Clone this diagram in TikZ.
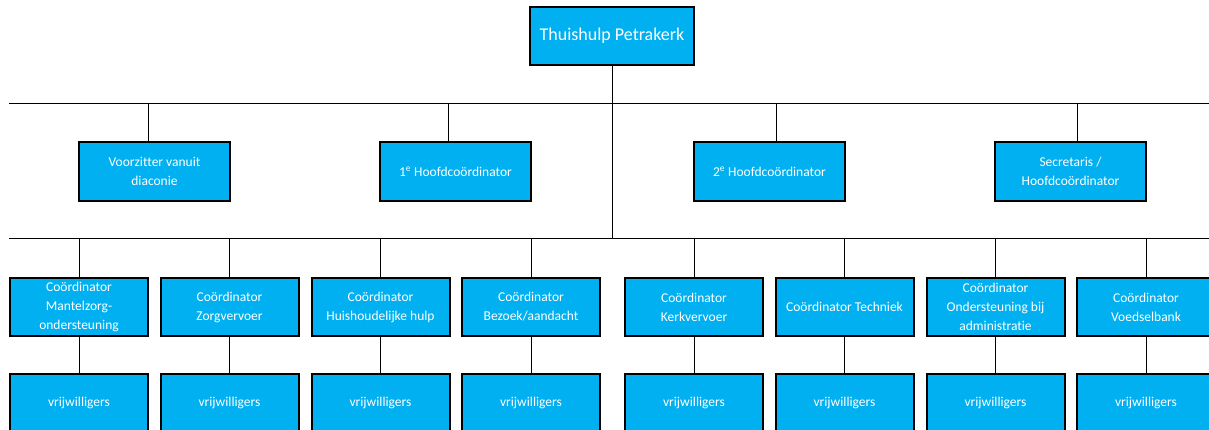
\documentclass[tikz,border=0pt]{standalone}
\usepackage{fontspec}
\setmainfont{Carlito}[Ligatures=CommonOff]
\usetikzlibrary{positioning}
\definecolor{orgblue}{HTML}{00B0F0}

\begin{document}
\begin{tikzpicture}[
                x=1pt, y=-1pt,
                node distance=96pt,
                on grid,
                box/.style={draw=black, line width=2pt, fill=orgblue, text=white,
                    align=center, inner sep=0pt, minimum height=58pt,
                    font=\fontsize{13.5}{19}\selectfont},
                head/.style={box, minimum width=164pt, font=\fontsize{18}{20}\selectfont},
                lead/.style={box, minimum width=151pt, minimum height=59pt},
                coord/.style={box, minimum width=138pt},
                link/.style={draw=black, line width=0.8pt}]
            \useasboundingbox (0,0) rectangle (1209,430);
            \clip (0,0) rectangle (1209,430);
            % buses
            \coordinate (bus_L) at (9,103);
            \coordinate (bus_R) at (1209,103);
            \coordinate (low_L) at (9,238);
            \coordinate (low_R) at (1209,238);
            \coordinate (tap_1) at (148,103);
            \coordinate (tap_2) at (448,103);
            \coordinate (tap_3) at (776,103);
            \coordinate (tap_4) at (1077,103);
            % top
            \node[head] (top) at (612,36) {Thuishulp Petrakerk};
            % level 2
            \node[lead] (lead_1) at (154.5,171.5) {Voorzitter vanuit\\diaconie};
            \node[lead] (lead_2) at (455.5,171.5) {1\textsuperscript{e} Hoofdco\"ordinator};
            \node[lead] (lead_3) at (769.5,171.5) {2\textsuperscript{e} Hoofdco\"ordinator};
            \node[lead] (lead_4) at (1070.5,171.5) {Secretaris /\\Hoofdco\"ordinator};
            % coordinators
            \node[coord] (co_1) at (79,307) {Co\"ordinator\\Mantelzorg-\\ondersteuning};
            \node[coord] (co_2) at (229.5,307) {Co\"ordinator\\Zorgvervoer};
            \node[coord] (co_3) at (380.5,307) {Co\"ordinator\\Huishoudelijke hulp};
            \node[coord] (co_4) at (531,307) {Co\"ordinator\\Bezoek/aandacht};
            \node[coord] (co_5) at (694,307) {Co\"ordinator\\Kerkvervoer};
            \node[coord] (co_6) at (844.5,307) {Co\"ordinator Techniek};
            \node[coord] (co_7) at (995.5,307) {Co\"ordinator\\Ondersteuning bij\\administratie};
            \node[coord] (co_8) at (1146,307) {Co\"ordinator\\Voedselbank};
            % volunteers
            \foreach \i in {1,...,8}
                \node[coord] (vr_\i) [below=of co_\i] {vrijwilligers};
            \path[link]
            (bus_L) edge (bus_R)
            (low_L) edge (low_R)
            (top.south) edge (top.south |- low_L)
            (tap_1) edge (tap_1 |- lead_1.north)
            (tap_2) edge (tap_2 |- lead_2.north)
            (tap_3) edge (tap_3 |- lead_3.north)
            (tap_4) edge (tap_4 |- lead_4.north)
            ;
            \foreach \i in {1,...,8}
                \path[link]
                (co_\i.north |- low_L) edge (co_\i.north)
                (co_\i.south) edge (vr_\i.north);
        \end{tikzpicture}
\end{document}
